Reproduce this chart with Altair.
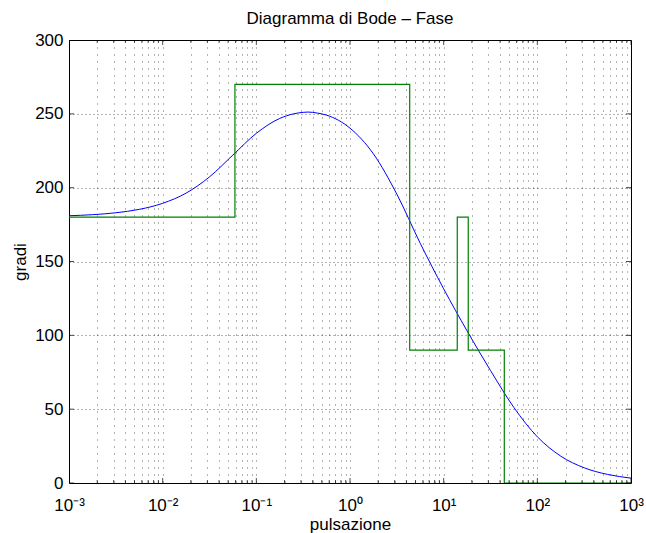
import altair as alt
import pandas as pd

# Blue curve: phase (degrees) at pulsazione values (log spaced, denser near the peak)
omega = [0.001, 0.001778, 0.003162, 0.005623, 0.01, 0.01778, 0.03162, 0.05623,
         0.1, 0.1778, 0.25, 0.3162, 0.355, 0.45, 0.5623, 1.0, 1.778, 3.162, 5.623, 10.0, 17.78,
         31.62, 56.23, 100.0, 177.8, 316.2, 562.3, 1000.0]
phase = [181.0, 181.7, 183.0, 185.3, 189.4, 196.3, 207.3, 222.1,
         236.8, 246.9, 250.0, 251.0, 251.2, 250.5, 249.1, 240.3, 222.9, 195.6, 162.3, 131.5, 103.0,
         76.2, 51.1, 31.3, 18.2, 10.3, 5.8, 3.3]

# Green asymptotic (step) diagram
step_omega = [0.001, 0.0591, 0.0591, 4.34, 4.34, 13.97, 13.97, 18.3, 18.3, 44.4, 44.4, 1000.0]
step_phase = [180, 180, 270, 270, 90, 90, 180, 180, 90, 90, 0, 0]

# Axis ticks / labels
decades = [0.001, 0.01, 0.1, 1.0, 10.0, 100.0, 1000.0]
decade_labels = ["10⁻³", "10⁻²", "10⁻¹", "10⁰", "10¹", "10²", "10³"]
minor_mult = [2, 3, 4, 5, 6, 7, 8, 9]
y_ticks = [0, 50, 100, 150, 200, 250, 300]

W, H = 562, 443
FONT = "Liberation Sans"
FS = 17

minor_vals = [round(m * d, 6) for d in decades[:-1] for m in minor_mult]
x_vals = sorted(decades + minor_vals)

label_expr = " : ".join(f"datum.value == {d} ? '{l}'" for d, l in zip(decades, decade_labels)) + " : ''"

curve_df = pd.DataFrame({"w": omega, "phi": phase})
step_df = pd.DataFrame({"w": step_omega, "phi": step_phase, "i": list(range(len(step_omega)))})
xt_df = pd.DataFrame({"w": x_vals, "len": [10 if v in decades else 6 for v in x_vals]})
yt_df = pd.DataFrame({"v": y_ticks})

xscale = alt.Scale(type="log", domain=[0.001, 1000], nice=False)
yscale = alt.Scale(domain=[0, 300], nice=False, zero=False)

xaxis = alt.Axis(values=x_vals, labelExpr=label_expr, grid=True, gridDash=[1, 6],
                 gridColor="#000000", gridOpacity=0.6, gridWidth=1,
                 ticks=False, tickSize=0, labelPadding=14, labelFont=FONT, labelFontSize=FS,
                 labelColor="black", labelFlush=False, labelOverlap=False, domain=False,
                 title="pulsazione", titleFont=FONT, titleFontSize=FS, titleFontWeight="normal",
                 titleColor="black", titleY=46, titleBaseline="alphabetic")
yaxis = alt.Axis(values=y_ticks, grid=True, gridDash=[1, 3], gridColor="#000000",
                 gridOpacity=0.6, gridWidth=1, ticks=False, tickSize=0, labelPadding=6,
                 labelFont=FONT, labelFontSize=FS, labelColor="black", domain=False,
                 title="gradi", titleFont=FONT, titleFontSize=FS, titleFontWeight="normal",
                 titleColor="black", titleX=-44, titleBaseline="alphabetic", titleAngle=-90)

curve = alt.Chart(curve_df).mark_line(color="#0000ff", strokeWidth=1, interpolate="monotone", clip=True).encode(
    x=alt.X("w:Q", scale=xscale, axis=xaxis),
    y=alt.Y("phi:Q", scale=yscale, axis=yaxis),
)

step = alt.Chart(step_df).mark_line(color="#008000", strokeWidth=1.2, clip=True).encode(
    x=alt.X("w:Q", scale=xscale),
    y=alt.Y("phi:Q", scale=yscale),
    order="i:Q",
)

tick_bottom = alt.Chart(xt_df).mark_tick(orient="vertical", color="black", thickness=1, clip=True).encode(
    x=alt.X("w:Q", scale=xscale), y=alt.value(H), size=alt.Size("len:Q", scale=None))
tick_top = alt.Chart(xt_df).mark_tick(orient="vertical", color="black", thickness=1, clip=True).encode(
    x=alt.X("w:Q", scale=xscale), y=alt.value(0), size=alt.Size("len:Q", scale=None))
tick_left = alt.Chart(yt_df).mark_tick(orient="horizontal", color="black", thickness=1, clip=True, size=10).encode(
    y=alt.Y("v:Q", scale=yscale), x=alt.value(0))
tick_right = alt.Chart(yt_df).mark_tick(orient="horizontal", color="black", thickness=1, clip=True, size=10).encode(
    y=alt.Y("v:Q", scale=yscale), x=alt.value(W))

chart = alt.layer(curve, step, tick_bottom, tick_top, tick_left, tick_right).properties(
    width=W, height=H,
    title=alt.TitleParams("Diagramma di Bode – Fase", font=FONT, fontSize=FS, fontWeight="normal",
                          color="black", anchor="middle", baseline="alphabetic", offset=14, dy=24),
    autosize=alt.AutoSizeParams(type="none"),
    padding={"left": 69, "top": 40, "right": 15, "bottom": 50},
    background="white",
).configure_view(stroke="black", strokeWidth=1)

chart.save("out.html", embed_options={"renderer": "svg", "actions": False})
